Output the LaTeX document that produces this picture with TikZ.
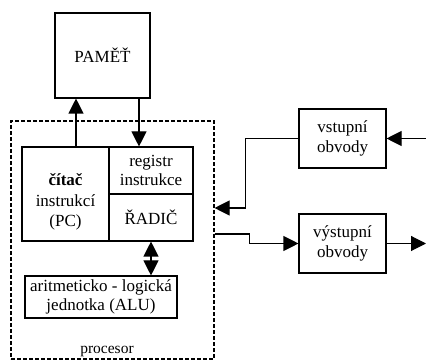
\documentclass[tikz,border=0pt]{standalone}
\usepackage{fontspec}
\setmainfont{Liberation Serif}
\usepackage{tikz}
\usetikzlibrary{arrows.meta}

\begin{document}
\begin{tikzpicture}[x=1pt, y=-1pt, >={Triangle[length=15pt,width=15pt]}]
  \tikzstyle{block} = [draw, line width=1.1pt, rectangle, inner sep=0pt, align=center, font={\fontsize{17}{19.5}\selectfont}]
  \tikzstyle{procBox} = [draw, line width=1.1pt, dash pattern=on 4pt off 2pt, rectangle, inner sep=0pt]
  \tikzstyle{blockEdge} = [black, line width=1.1pt, ->];
  \tikzstyle{blockEdgeBoth} = [black, line width=1.1pt, <->];

  \useasboundingbox (0,0) rectangle (426,363);

  \node[procBox] (proc) at (112.5,240) [minimum width=203, minimum height=238] {};
  \node[font={\fontsize{15.5}{17}\selectfont}] (procLabel) at (107,351) {procesor};

  \node[block] (pamet)  at (102.5,55.5) [minimum width=95, minimum height=85] {PAMĚŤ};
  \node[block] (citac)  at (65.5,194)   [minimum width=87, minimum height=94] {};
  \node[font={\fontsize{17}{20.5}\selectfont}, align=center] (citacText) at (65.5,202) {\textbf{čítač}\\instrukcí\\(PC)};
  \node[block] (registr) at (151,170.5) [minimum width=84, minimum height=47] {registr\\instrukce};
  \node[block] (radic)  at (151,217.5)  [minimum width=84, minimum height=47] {ŘADIČ};
  \node[block] (alu)    at (101,297)    [minimum width=152, minimum height=42] {aritmeticko - logická\\jednotka (ALU)};
  \node[block] (vstup)  at (342.5,138.5) [minimum width=87, minimum height=59] {vstupní\\obvody};
  \node[block] (vystup) at (342.5,243.5) [minimum width=87, minimum height=59] {výstupní\\obvody};

  \coordinate (inRight)  at (426,138.5);
  \coordinate (outRight) at (426,243.5);

  \draw[blockEdge] ([xshift=10.5pt]citac.north) -- ([xshift=10.5pt]citac.north |- pamet.south);
  \draw[blockEdge] ([xshift=36.5pt]pamet.south) -- ([xshift=36.5pt]pamet.south |- registr.north);
  \draw[blockEdgeBoth] (radic.south) -- (radic.south |- alu.north);
  \draw[blockEdge] (inRight) -- (vstup.east);
  \draw[blockEdge] (vstup.west) -- ++(-53,0) |- ([yshift=32pt]proc.east);
  \draw[blockEdge] ([yshift=6pt]proc.east) -- ++(35,0) |- (vystup.west);
  \draw[blockEdge] (vystup.east) -- (outRight);
\end{tikzpicture}
\end{document}
